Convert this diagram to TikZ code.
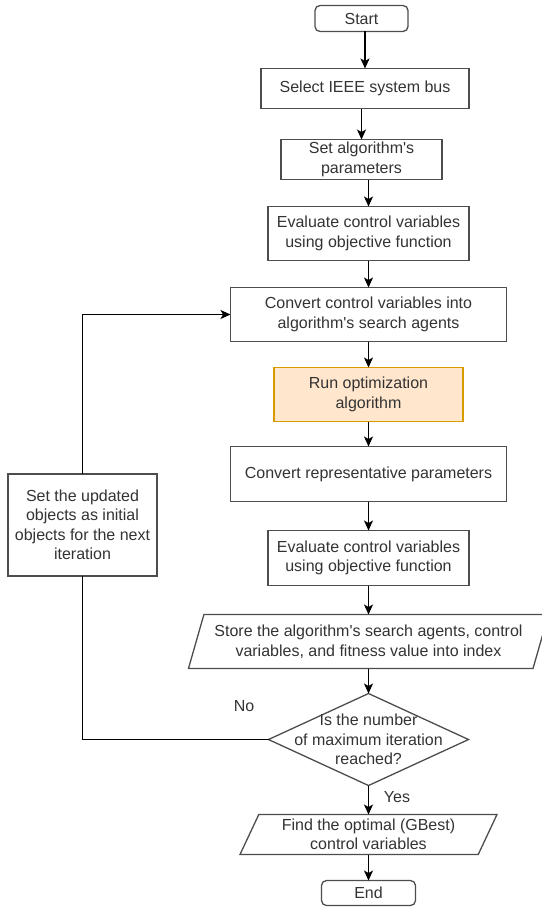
\documentclass[tikz,border=0pt]{standalone}
\usepackage{fontspec}
\newfontfamily\diafont{Liberation Sans}
\usetikzlibrary{shapes,arrows.meta,positioning}

\definecolor{runfill}{HTML}{FFE6CC}
\definecolor{rundraw}{HTML}{D79B00}
\definecolor{linegray}{HTML}{4D4D4D}
\definecolor{txtgray}{HTML}{333333}

\begin{document}
\begin{tikzpicture}[x=1pt, y=-1pt,
        every node/.style={font=\diafont\fontsize{16}{19.5}\selectfont, text=txtgray},
        block/.style={rectangle, draw=linegray, line width=1.3pt, fill=white, align=center, inner sep=0pt, outer sep=0pt},
        term/.style={block, rounded corners=5pt, minimum width=93pt, minimum height=26pt},
        io/.style={trapezium, trapezium stretches body, draw=linegray, line width=1.3pt, fill=white, align=center, inner sep=0pt, outer sep=0pt},
        decision/.style={diamond, draw=linegray, line width=1.3pt, fill=white, inner sep=0pt, outer sep=0pt, minimum width=200pt, minimum height=92pt},
        line/.style={draw=black, line width=1.3pt},
        arr/.style={line, -{Stealth[length=10pt, width=9pt, inset=2.5pt]}}]

        \useasboundingbox (0,0) rectangle (541,907);

        \node[term] (start) at (361.5,18.5) {Start};
        \node[block, minimum width=208pt, minimum height=40pt, below=37pt of start, xshift=3.5pt] (select) {Select IEEE system bus};
        \node[block, minimum width=161pt, minimum height=40pt, below=31pt of select, xshift=-3.5pt] (params) {Set algorithm's\\parameters};
        \node[block, minimum width=201pt, minimum height=54pt, below=27pt of params, xshift=7pt] (evalA) {Evaluate control variables\\using objective function};
        \node[block, minimum width=276pt, minimum height=54pt, below=27pt of evalA] (convA) {Convert control variables into\\algorithm's search agents};
        \node[block, fill=runfill, draw=rundraw, minimum width=189pt, minimum height=54pt, below=26pt of convA] (run) {Run optimization\\algorithm};
        \node[block, minimum width=276pt, minimum height=55pt, below=25pt of run] (convB) {Convert representative parameters};
        \node[block, minimum width=201pt, minimum height=55pt, below=29pt of convB] (evalB) {Evaluate control variables\\using objective function};
        \node[io, trapezium left angle=65, trapezium right angle=115, minimum width=360pt, minimum height=54pt, below=29pt of evalB] (store) {Store the algorithm's search agents, control\\variables, and fitness value into index};
        \node[decision, below=25pt of store] (check) {};
        \node[align=center] (checktxt) at (check) {Is the number\\of maximum iteration\\reached?};
        \node[io, trapezium left angle=59, trapezium right angle=121, minimum width=257pt, minimum height=40pt, below=29pt of check] (find) {Find the optimal (GBest)\\control variables};
        \node[term, minimum width=94pt, minimum height=25pt, below=26pt of find] (end) {End};

        % loop back
        \node[block, minimum width=149pt, minimum height=102pt] (update) at (82.5,525) {Set the updated\\objects as initial\\objects for the next\\iteration};
        \node (no) at (244,706) {No};
        \node (yes) at (397,797) {Yes};

        \draw[arr] (start.south -| select.north) -- (select.north);
        \draw[arr] (select.south -| params.north) -- (params.north);
        \draw[arr] (params.south -| evalA.north) -- (evalA.north);
        \draw[arr] (evalA.south) -- (convA.north);
        \draw[arr] (convA.south) -- (run.north);
        \draw[arr] (run.south) -- (convB.north);
        \draw[arr] (convB.south) -- (evalB.north);
        \draw[arr] (evalB.south -| store.north) -- (store.north);
        \draw[arr] (store.south) -- (check.north);
        \draw[arr] (check.south) -- (find.north);
        \draw[arr] (find.south) -- (end.north);
        \draw[line] (check.west) -| (update.south);
        \draw[arr] (update.north) |- (convA.west);
    \end{tikzpicture}
\end{document}
